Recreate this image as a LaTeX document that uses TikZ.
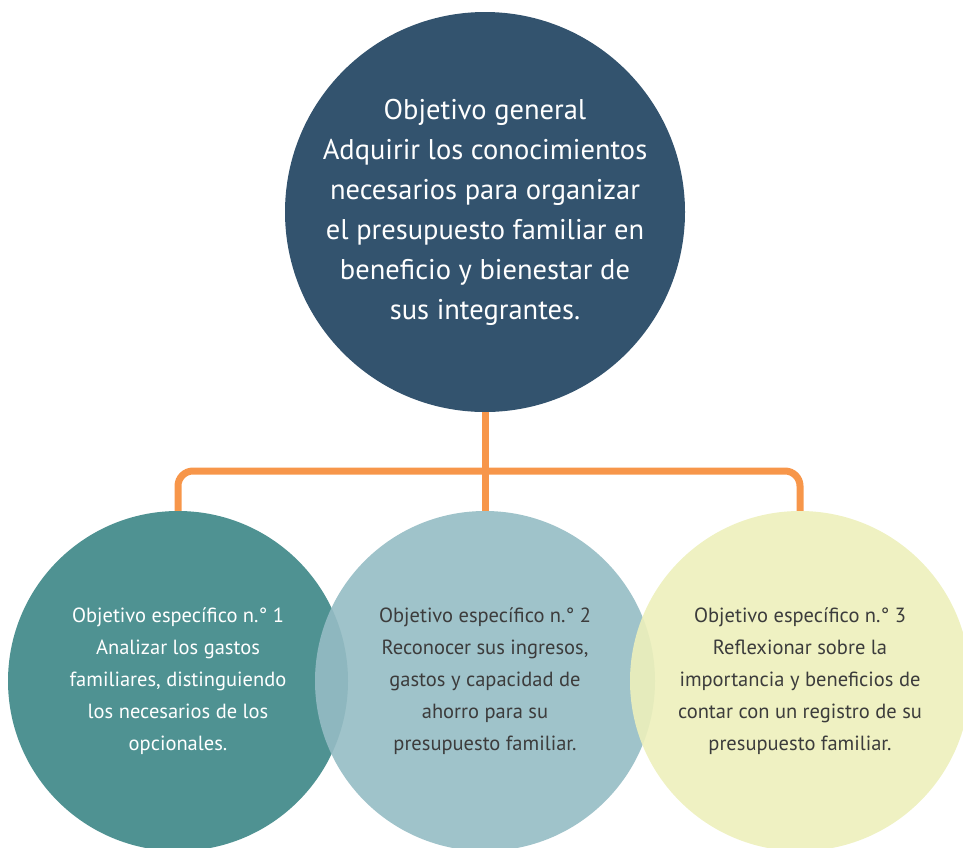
\documentclass[tikz,border=0pt]{standalone}
\usepackage{fontspec}
\setmainfont{PT Sans}
\usepackage{tikz}
\definecolor{genblue}{HTML}{33536E}
\definecolor{esp1}{HTML}{4F9292}
\definecolor{esp2}{HTML}{95BCC4}
\definecolor{esp3}{HTML}{EDF0BB}
\definecolor{linkorange}{HTML}{F7964A}
\definecolor{darktext}{HTML}{3C3C3C}
\tikzset{
  objcircle/.style={circle, inner sep=0pt, minimum size=340pt, align=center,
    fill opacity=0.9, text opacity=1, font=\fontsize{20.5}{32}\selectfont},
  linkline/.style={draw=linkorange, line width=7pt, rounded corners=15pt}
}
\begin{document}
\begin{tikzpicture}[x=1pt,y=-1pt]
				\useasboundingbox (0,0) rectangle (963,847);
				
				\node[circle, fill=genblue, inner sep=0pt, minimum size=400pt, align=center,
				  text=white, font=\fontsize{28.5}{40}\selectfont] (gen) at (485,212)
				  {Objetivo general\\Adquirir los conocimientos\\necesarios para organizar\\el presupuesto familiar en\\beneficio y bienestar de\\sus integrantes.};
				
				\node[objcircle, fill=esp1, fill opacity=1, text=white] (esp1) at (178,681)
				  {Objetivo específico n.° 1\\Analizar los gastos\\familiares, distinguiendo\\los necesarios de los\\opcionales.};
				\node[objcircle, fill=esp2, text=darktext] (esp2) at (485,681)
				  {Objetivo específico n.° 2\\Reconocer sus ingresos,\\gastos y capacidad de\\ahorro para su\\presupuesto familiar.};
				\node[objcircle, fill=esp3, text=darktext] (esp3) at (800,681)
				  {Objetivo específico n.° 3\\Reflexionar sobre la\\importancia y beneficios de\\contar con un registro de su\\presupuesto familiar.};
				
				\coordinate (hub) at (485,471);
				\draw[linkline] (gen.south) -- (esp2.north);
				\draw[linkline] (esp1.north) |- (hub) -| (esp3.north);
			\end{tikzpicture}
\end{document}
